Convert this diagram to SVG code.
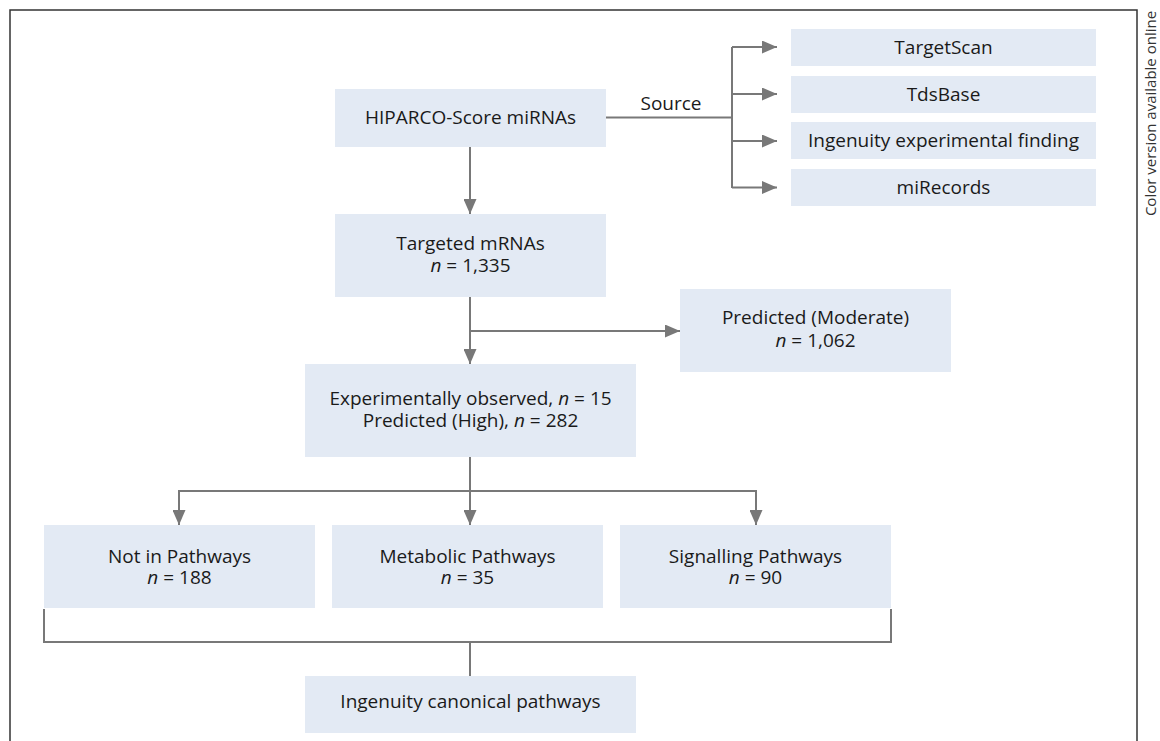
<svg xmlns="http://www.w3.org/2000/svg" width="1160" height="741" viewBox="0 0 1160 741">
<style>
.box{fill:#e3eaf4}
.t{font-family:"Open Sans","Noto Sans",sans-serif;font-size:19px;fill:#1a1a1a;text-anchor:middle}
.i{font-style:italic}
.c{fill:none;stroke:#787878;stroke-width:2}
.a{marker-end:url(#ah)}
</style>
<defs>
<marker id="ah" markerUnits="userSpaceOnUse" markerWidth="15" markerHeight="13" refX="15" refY="6.5" orient="auto">
<path d="M0,0 L15,6.5 L0,13 z" fill="#787878"/>
</marker>
</defs>
<rect width="1160" height="741" fill="#fff"/>
<path d="M10,741 V10 H1137 V741" fill="none" stroke="#333" stroke-width="1.5"/>
<text transform="translate(1156,113.5) rotate(-90)" style="font-family:'Open Sans','Noto Sans',sans-serif;font-size:15px;fill:#333;text-anchor:middle">Color version available online</text>

<g id="connectors">
<path class="c a" d="M470,147 V214"/>
<path class="c" d="M606,117.5 H732 M732,47 V188"/>
<path class="c a" d="M732,47 H777"/>
<path class="c a" d="M732,94 H777"/>
<path class="c a" d="M732,141 H777"/>
<path class="c a" d="M732,187.5 H777"/>
<path class="c a" d="M470,297 V364"/>
<path class="c a" d="M470,331 H680"/>
<path class="c a" d="M470,457 V525"/>
<path class="c" d="M179,491 H756"/>
<path class="c a" d="M179,490 V525"/>
<path class="c a" d="M756,490 V525"/>
<path class="c" d="M44,609 V642 H891 V609 M470,642 V676"/>
</g>

<g id="hiparco"><rect class="box" x="335" y="89" width="271" height="58"/><text class="t" x="470.5" y="124">HIPARCO-Score miRNAs</text></g>
<g id="source-label"><text class="t" x="671" y="110">Source</text></g>
<g id="targetscan"><rect class="box" x="791" y="29" width="305" height="37"/><text class="t" x="943.5" y="54">TargetScan</text></g>
<g id="tdsbase"><rect class="box" x="791" y="76" width="305" height="37"/><text class="t" x="943.5" y="100.7">TdsBase</text></g>
<g id="ingenuity-exp"><rect class="box" x="791" y="122" width="305" height="37"/><text class="t" x="943.5" y="147.3">Ingenuity experimental finding</text></g>
<g id="mirecords"><rect class="box" x="791" y="169" width="305" height="37"/><text class="t" x="943.5" y="194.3">miRecords</text></g>
<g id="targeted"><rect class="box" x="335" y="214" width="271" height="83"/><text class="t" x="470.5" y="250">Targeted mRNAs<tspan x="470.5" dy="22"><tspan class="i">n</tspan> = 1,335</tspan></text></g>
<g id="predicted-moderate"><rect class="box" x="680" y="289" width="271" height="83"/><text class="t" x="815.5" y="324">Predicted (Moderate)<tspan x="815.5" dy="22.5"><tspan class="i">n</tspan> = 1,062</tspan></text></g>
<g id="experimental"><rect class="box" x="305" y="364" width="331" height="93"/><text class="t" x="470.5" y="405">Experimentally observed, <tspan class="i">n</tspan> = 15<tspan x="470.5" dy="21.7">Predicted (High), <tspan class="i">n</tspan> = 282</tspan></text></g>
<g id="not-in-pathways"><rect class="box" x="44" y="525" width="271" height="83"/><text class="t" x="179.5" y="562.7">Not in Pathways<tspan x="179.5" dy="21.5"><tspan class="i">n</tspan> = 188</tspan></text></g>
<g id="metabolic"><rect class="box" x="332" y="525" width="271" height="83"/><text class="t" x="467.5" y="562.7">Metabolic Pathways<tspan x="467.5" dy="21.5"><tspan class="i">n</tspan> = 35</tspan></text></g>
<g id="signalling"><rect class="box" x="620" y="525" width="271" height="83"/><text class="t" x="755.5" y="562.7">Signalling Pathways<tspan x="755.5" dy="21.5"><tspan class="i">n</tspan> = 90</tspan></text></g>
<g id="canonical"><rect class="box" x="305" y="676" width="331" height="57"/><text class="t" x="470.5" y="708">Ingenuity canonical pathways</text></g>
</svg>
